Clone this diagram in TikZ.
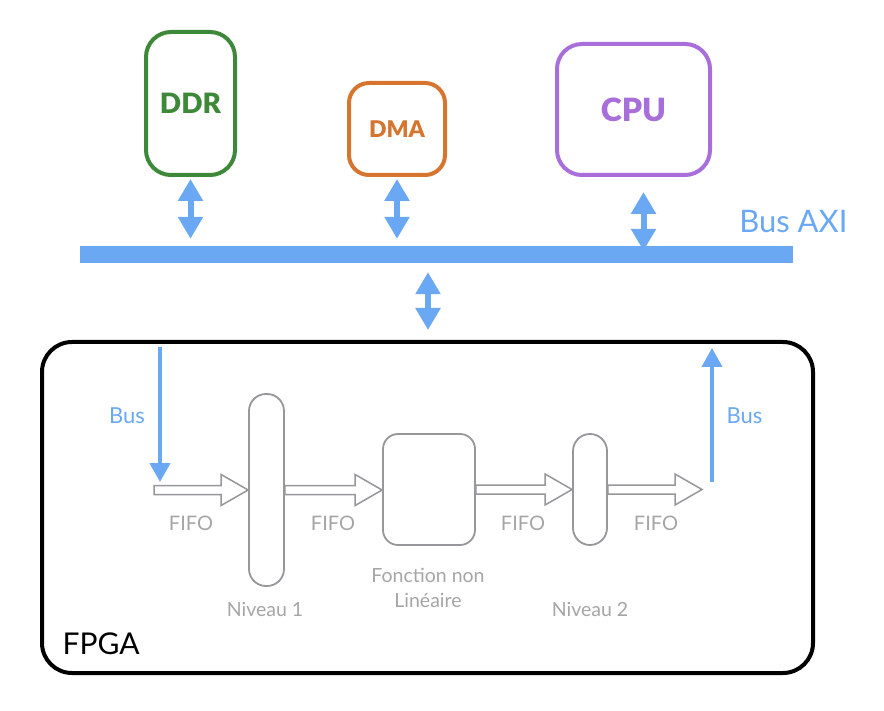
\documentclass[tikz,border=0pt]{standalone}
\usepackage{fontspec}
\setmainfont{Lato}
\newfontface\heavyfont{Lato Black}
\usetikzlibrary{arrows.meta,calc}

\definecolor{busblue}{RGB}{106,168,244}
\definecolor{ddrgreen}{RGB}{62,137,57}
\definecolor{dmaorange}{RGB}{213,117,48}
\definecolor{cpupurple}{RGB}{168,111,219}
\definecolor{blocgray}{RGB}{150,150,155}
\definecolor{textgray}{RGB}{165,165,165}

\tikzset{
  master/.style={draw=#1, text=#1, line width=4pt, rounded corners=25pt, inner sep=0pt},
  bloc/.style={draw=blocgray, line width=1.8pt, inner sep=0pt},
  dbl/.style={busblue, line width=6pt, {Triangle[width=24pt,length=22pt]}-{Triangle[width=24pt,length=22pt]}},
  busarrow/.style={busblue, line width=4pt, -{Triangle[width=20pt,length=19pt]}},
  fifo/.style={draw=blocgray, line width=1.5pt, fill=white, line join=miter},
  graylabel/.style={text=textgray, font=\fontsize{19.5}{25}\selectfont, align=center}
}

\newcommand{\fifoarrow}[2]{%
  \draw[fifo] let \p1=(#1), \p2=(#2) in
    (\x1,\y1+4.5) -- (\x2-27,\y1+4.5) -- (\x2-27,\y1+15.5) -- (\x2,\y1)
    -- (\x2-27,\y1-15.5) -- (\x2-27,\y1-4.5) -- (\x1,\y1-4.5) -- cycle;}

\begin{document}
\begin{tikzpicture}[x=1pt, y=-1pt]
  \useasboundingbox (0,0) rectangle (884,711);

  %blocos do barramento
  \node[master=ddrgreen, minimum width=89pt, minimum height=143pt, font=\heavyfont\fontsize{28}{30}\selectfont] (ddr) at (190.5,103.5) {DDR};
  \node[master=dmaorange, minimum width=96pt, minimum height=92pt, rounded corners=20pt, font=\heavyfont\fontsize{23}{25}\selectfont] (dma) at (397,129) {DMA};
  \node[master=cpupurple, minimum width=153pt, minimum height=131pt, font=\heavyfont\fontsize{32}{34}\selectfont] (cpu) at (633.5,109.5) {CPU};

  %barramento
  \node[fill=busblue, minimum width=713pt, minimum height=17pt, inner sep=0pt] (axi) at (436.5,254.5) {};
  \node[anchor=base east, text=busblue, font=\fontsize{31}{33}\selectfont] (axilabel) at (851,233) {Bus AXI};

  %FPGA
  \node[draw=black, line width=4pt, rounded corners=30pt, minimum width=771pt, minimum height=331pt, inner sep=0pt] (fpga) at (427.5,507.5) {};
  \node[anchor=base west, font=\fontsize{30}{32}\selectfont] (fpgalabel) at (59,654) {FPGA};

  %setas duplas
  \draw[dbl, shorten <=2pt, shorten >=7pt] (ddr.south) -- (ddr.south |- axi.north);
  \draw[dbl, shorten <=2pt, shorten >=7pt] (dma.south) -- (dma.south |- axi.north);
  \draw[dbl, shorten <=15pt, shorten >=-5pt] ([xshift=10pt]cpu.south) -- ([xshift=10pt]cpu.south |- axi.north);
  \draw[dbl, shorten <=9pt, shorten >=10pt] (axi.south -| 428,0) -- (428,340);

  %blocos internos
  \node[bloc, rounded corners=17pt, minimum width=35pt, minimum height=192pt] (niv1) at (266.5,490) {};
  \node[bloc, rounded corners=15pt, minimum width=92pt, minimum height=111pt] (fn) at (429,489.5) {};
  \node[bloc, rounded corners=17pt, minimum width=34pt, minimum height=111pt] (niv2) at (590,489.5) {};

  \node[graylabel, anchor=base] (niv1label) at (265,616) {Niveau 1};
  \node[graylabel, anchor=base] (fnlabel) at (428,607) {Fonction non\\Linéaire};
  \node[graylabel, anchor=base] (niv2label) at (590,616) {Niveau 2};

  %fifos
  \coordinate (in1) at (154,490);
  \coordinate (out1) at (702,490);
  \fifoarrow{in1}{niv1.west}
  \fifoarrow{niv1.east}{fn.west}
  \fifoarrow{fn.east}{niv2.west}
  \fifoarrow{niv2.east}{out1}

  \node[graylabel, font=\fontsize{20}{22}\selectfont, anchor=base] (fifo1) at (191,530) {FIFO};
  \node[graylabel, font=\fontsize{20}{22}\selectfont, anchor=base] (fifo2) at (333,530) {FIFO};
  \node[graylabel, font=\fontsize{20}{22}\selectfont, anchor=base] (fifo3) at (523,530) {FIFO};
  \node[graylabel, font=\fontsize{20}{22}\selectfont, anchor=base] (fifo4) at (656,530) {FIFO};

  %entrada e saida
  \coordinate (busin) at (160,347);
  \coordinate (busend) at (160,482);
  \coordinate (busstart) at (712,482);
  \coordinate (busout) at (712,348);
  \draw[busarrow] (busin) -- (busend);
  \draw[busarrow] (busstart) -- (busout);
  \node[anchor=base, text=busblue, font=\fontsize{22}{24}\selectfont] (businlabel) at (127,424) {Bus};
  \node[anchor=base, text=busblue, font=\fontsize{22}{24}\selectfont] (busoutlabel) at (744.5,424) {Bus};
\end{tikzpicture}
\end{document}
